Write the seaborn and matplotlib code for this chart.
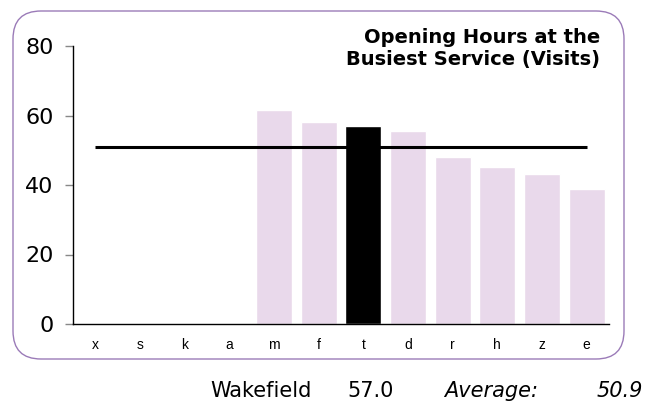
import matplotlib
matplotlib.use("Agg")
import matplotlib.pyplot as plt
import seaborn as sns
import pandas as pd
import numpy as np
from matplotlib.patches import FancyBboxPatch
from matplotlib.transforms import IdentityTransform

categories = ["x", "s", "k", "a", "m", "f", "t", "d", "r", "h", "z", "e"]
values = [0, 0, 0, 0, 61.6, 58.0, 57.0, 55.5, 48.1, 45.3, 43.2, 38.9]
highlight = "t"
average = 50.9
area_name = "Wakefield"
area_value = 57.0
title_lines = ["Opening Hours at the", "Busiest Service (Visits)"]
yticks = [0, 20, 40, 60, 80]

sns.set_theme(style="white")
plt.rcParams['font.family'] = ['DejaVu Sans']
plt.rcParams['text.color'] = 'black'
plt.rcParams['xtick.color'] = 'black'
plt.rcParams['ytick.color'] = 'black'

W, H = 653, 401
df = pd.DataFrame({"cat": categories, "val": values})
palette = {c: ("#000000" if c == highlight else "#E9D9EB") for c in categories}

fig = plt.figure(figsize=(W/100, H/100), dpi=100)
ax = fig.add_axes([73/W, 1 - 324/H, (609-73)/W, (324-46)/H])

sns.barplot(data=df, x="cat", y="val", hue="cat", palette=palette, order=categories,
            hue_order=categories, legend=False, width=0.8, saturation=1, ax=ax)

ax.plot([0, len(categories) - 1], [average, average], color="black", lw=2.2, solid_capstyle="butt")

ax.set_xlim(-0.5, len(categories) - 0.5)
ax.set_ylim(0, 80)
ax.set_yticks(yticks)
ax.set_yticklabels([str(t) for t in yticks], fontsize=16)
ax.set_xlabel("")
ax.set_ylabel("")
for lab in ax.get_xticklabels():
    lab.set_fontfamily("Liberation Sans")
    lab.set_fontsize(10)
ax.tick_params(axis="y", which="both", left=True, length=6, width=1, color="#888888", pad=8)
ax.tick_params(axis="x", which="both", bottom=False, pad=4)
for s in ["top", "right"]:
    ax.spines[s].set_visible(False)
ax.spines["left"].set_color("black")
ax.spines["bottom"].set_color("black")
ax.spines["left"].set_linewidth(1)
ax.spines["bottom"].set_linewidth(1)

fig.text(600/W, 1 - 43/H, title_lines[0], ha="right", va="baseline", fontsize=14, fontweight="bold")
fig.text(600/W, 1 - 65/H, title_lines[1], ha="right", va="baseline", fontsize=14, fontweight="bold")

# rounded frame (pixel coordinates)
box = FancyBboxPatch((13, H - 359), 624 - 13, 359 - 11,
                     boxstyle="round,pad=0,rounding_size=28", transform=IdentityTransform(),
                     fill=False, edgecolor="#9B7BB8", linewidth=1)
fig.add_artist(box)

ty = 1 - 397/H
fig.text(312/W, ty, area_name, ha="right", va="baseline", fontsize=15)
fig.text(394/W, ty, f"{area_value:.1f}", ha="right", va="baseline", fontsize=15)
fig.text(444/W, ty, "Average:", ha="left", va="baseline", fontsize=15, style="italic")
fig.text(643/W, ty, f"{average:.1f}", ha="right", va="baseline", fontsize=15, style="italic")

fig.savefig("out.png", dpi=100)
